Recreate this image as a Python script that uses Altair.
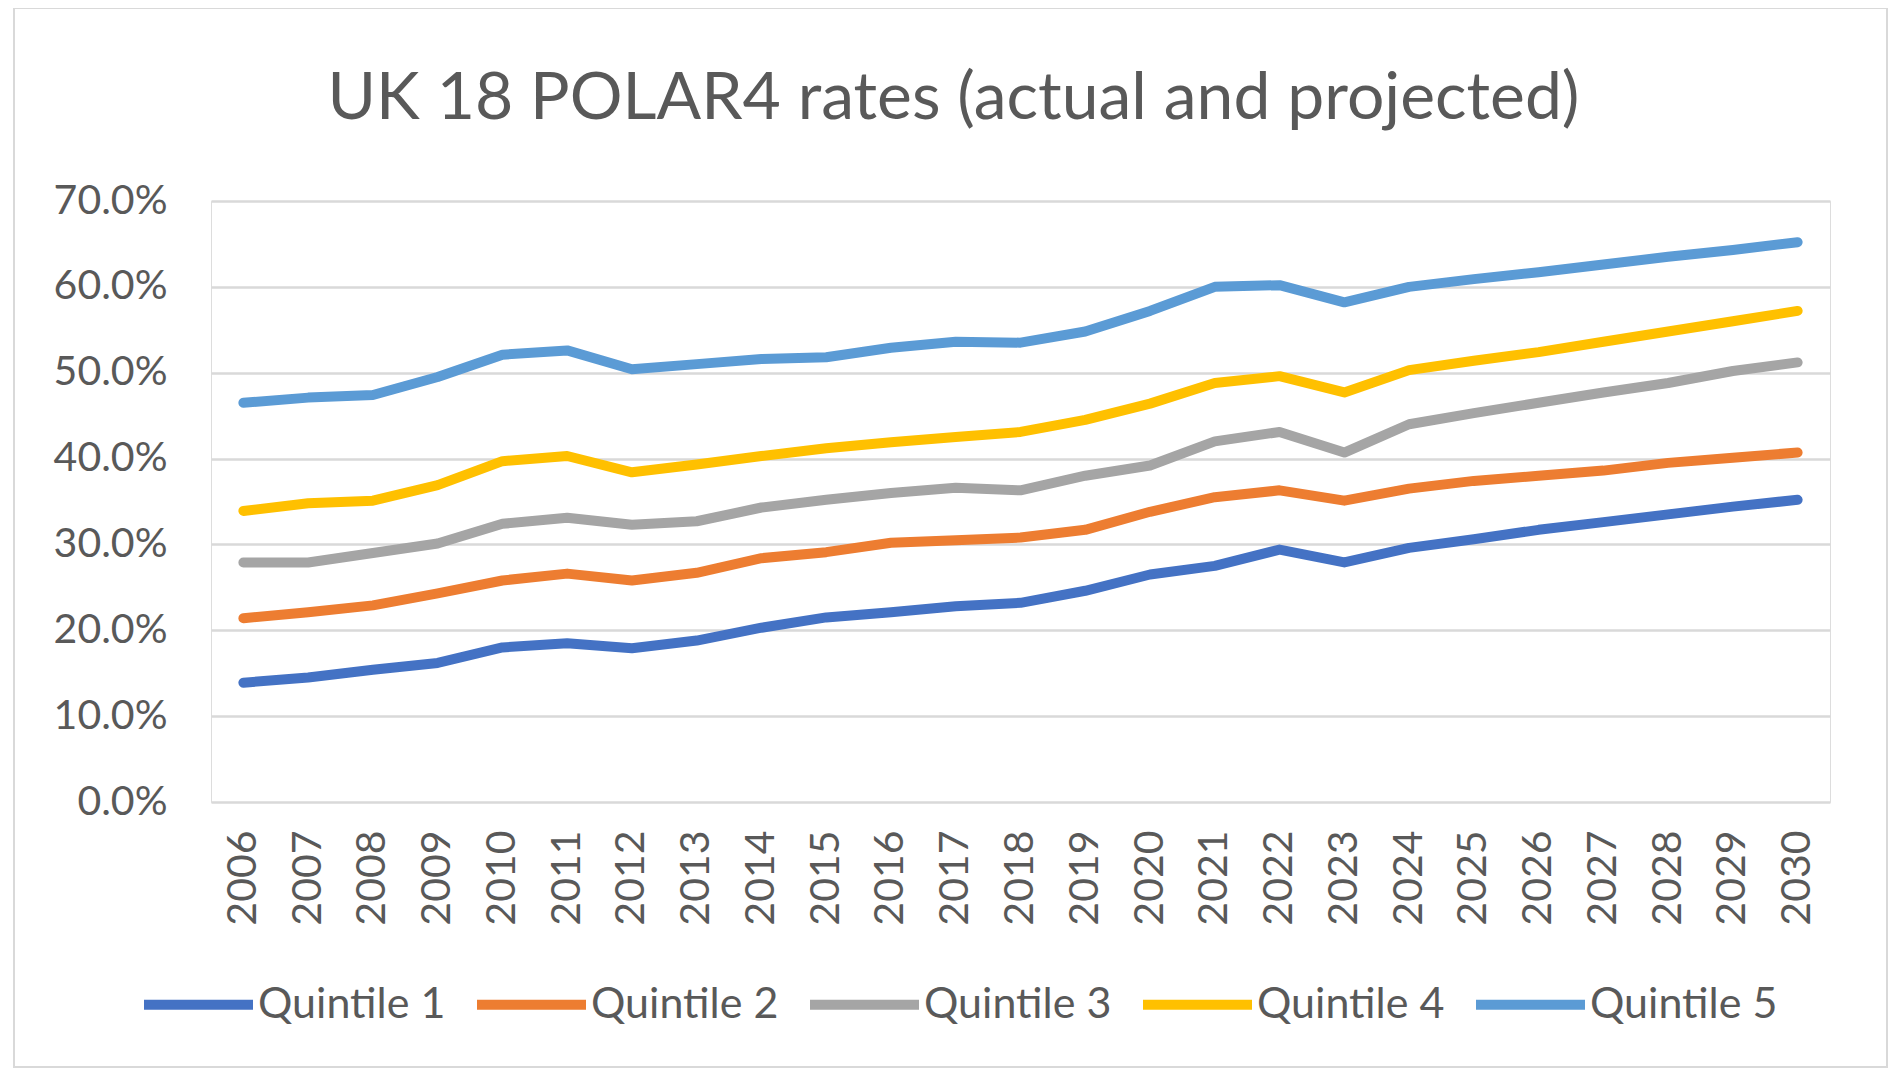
import altair as alt
import pandas as pd

years = [str(y) for y in range(2006, 2031)]
series_names = ["Quintile 1", "Quintile 2", "Quintile 3", "Quintile 4", "Quintile 5"]
colors = ["#4472C4", "#ED7D31", "#A5A5A5", "#FFC000", "#5B9BD5"]

q1 = [13.9, 14.5, 15.4, 16.2, 18.0, 18.5, 17.9, 18.8, 20.3, 21.5, 22.1, 22.8, 23.2,
      24.6, 26.5, 27.5, 29.4, 27.9, 29.6, 30.6, 31.7, 32.6, 33.5, 34.4, 35.2]
q2 = [21.4, 22.1, 22.9, 24.3, 25.8, 26.6, 25.8, 26.7, 28.4, 29.1, 30.2, 30.5, 30.8,
      31.7, 33.8, 35.5, 36.3, 35.1, 36.5, 37.4, 38.0, 38.6, 39.5, 40.1, 40.7]
q3 = [27.9, 27.9, 29.0, 30.1, 32.4, 33.1, 32.3, 32.7, 34.3, 35.2, 36.0, 36.6, 36.3,
      38.0, 39.2, 42.0, 43.1, 40.7, 44.0, 45.3, 46.5, 47.7, 48.8, 50.2, 51.2]
q4 = [33.9, 34.8, 35.1, 36.9, 39.7, 40.3, 38.4, 39.3, 40.3, 41.2, 41.9, 42.5, 43.1,
      44.5, 46.4, 48.8, 49.6, 47.7, 50.3, 51.4, 52.4, 53.6, 54.8, 56.0, 57.2]
q5 = [46.5, 47.1, 47.4, 49.5, 52.1, 52.6, 50.4, 51.0, 51.6, 51.8, 52.9, 53.6, 53.5,
      54.8, 57.2, 60.0, 60.2, 58.2, 60.0, 60.9, 61.7, 62.6, 63.5, 64.3, 65.2]
y_ticks = [0.0, 0.1, 0.2, 0.3, 0.4, 0.5, 0.6, 0.7]

rows = []
for name, vals in zip(series_names, [q1, q2, q3, q4, q5]):
    for yr, v in zip(years, vals):
        rows.append({"year": yr, "series": name, "rate": v / 100.0})
df = pd.DataFrame(rows)

FONT = "Lato"
TXT = "#595959"

lines = alt.Chart(df).mark_line(strokeWidth=10, strokeCap="round", strokeJoin="round").encode(
    x=alt.X("year:O", sort=years,
            scale=alt.Scale(type="point", padding=0.5),
            axis=alt.Axis(title=None, labelAngle=-90, labelFont=FONT, labelFontSize=41,
                          labelColor=TXT, ticks=False, domain=False, grid=False,
                          labelPadding=28)),
    y=alt.Y("rate:Q", scale=alt.Scale(domain=[0, 0.7], nice=False),
            axis=alt.Axis(title=None, values=y_ticks, format=".1%", labelFont=FONT,
                          labelFontSize=41, labelColor=TXT, ticks=False, domain=False,
                          labelPadding=44, gridColor="#D9D9D9", gridWidth=2.5)),
    color=alt.Color("series:N", sort=series_names,
                    scale=alt.Scale(domain=series_names, range=colors),
                    legend=alt.Legend(title=None, orient="none", legendX=-72, legendY=744,
                                      direction="horizontal", symbolType="stroke",
                                      symbolSize=11881, symbolStrokeWidth=10,
                                      labelFont=FONT, labelFontSize=43, labelColor=TXT,
                                      labelOffset=0, columnPadding=11, labelLimit=400)),
)

frame = alt.Chart(pd.DataFrame({"f": [0]})).mark_rect(
    fillOpacity=0, stroke="#D9D9D9", strokeWidth=2
).encode(
    x=alt.value(-197), x2=alt.value(1676), y=alt.value(-193), y2=alt.value(866)
)

chart = alt.layer(frame, lines).properties(
    width=1619,
    height=601,
    padding={"left": 203, "top": 193, "right": 58, "bottom": 266},
    autosize=alt.AutoSizeParams(type="none"),
    title=alt.TitleParams(
        text="UK 18 POLAR4 rates (actual and projected)",
        font=FONT, fontSize=66, fontWeight="normal", color=TXT,
        anchor="middle", baseline="alphabetic", offset=-178, dx=-67,
    ),
).configure_view(strokeWidth=0).configure(background="white")

chart.save("out.html", embed_options={"renderer": "svg", "actions": False})
